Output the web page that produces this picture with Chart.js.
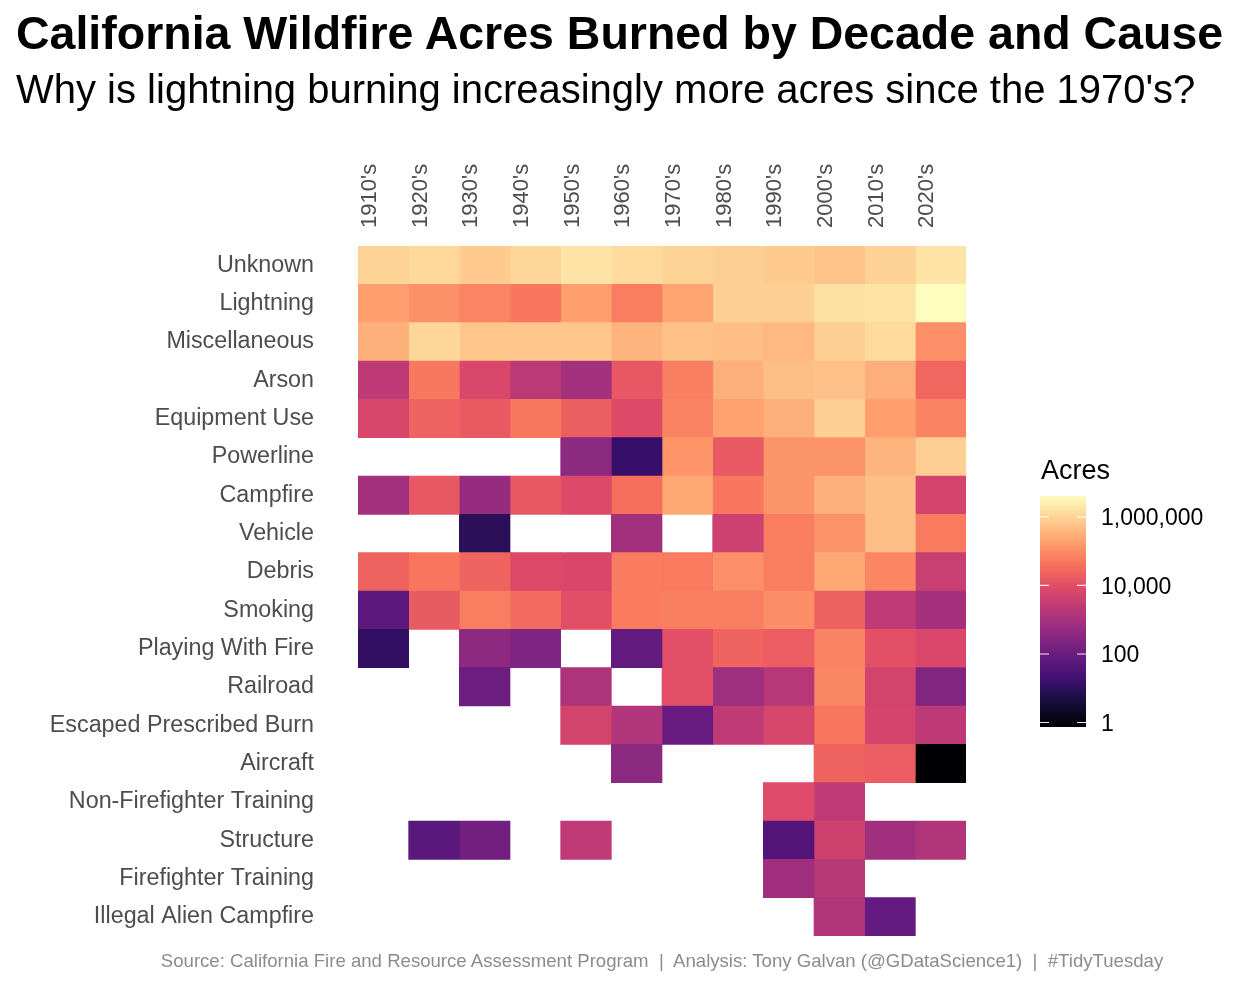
<!DOCTYPE html>
<html>
<head>
<meta charset="utf-8">
<script src="https://cdn.jsdelivr.net/npm/chart.js@4.4.1/dist/chart.umd.min.js"></script>
<style>
  html, body { margin: 0; padding: 0; background: #ffffff; }
  #wrap { position: relative; width: 1234px; height: 986px; overflow: hidden; font-family: "Liberation Sans", Arial, sans-serif; }
  #title { position: absolute; left: 16px; top: 7px; font-size: 46.5px; font-weight: bold; line-height: 1.15; white-space: nowrap; color: #000; }
  #subtitle { position: absolute; left: 16px; top: 66px; font-size: 40px; line-height: 1.15; white-space: nowrap; color: #000; }
  #caption { position: absolute; left: 0; width: 1324px; top: 950px; text-align: center; font-size: 18.6px; line-height: 1.15; white-space: pre; color: #8c8c8c; }
  canvas { position: absolute; left: 0; top: 0; }
</style>
</head>
<body>
<div id="wrap">
  <canvas id="chart" width="1234" height="986"></canvas>
  <div id="title">California Wildfire Acres Burned by Decade and Cause</div>
  <div id="subtitle">Why is lightning burning increasingly more acres since the 1970's?</div>
  <div id="caption">Source: California Fire and Resource Assessment Program  |  Analysis: Tony Galvan (@GDataScience1)  |  #TidyTuesday</div>
</div>
<script>
// ---------- DATA (acres burned; null = no fires) ----------
const decades = ["1910's","1920's","1930's","1940's","1950's","1960's","1970's","1980's","1990's","2000's","2010's","2020's"];
const causes = ["Unknown","Lightning","Miscellaneous","Arson","Equipment Use","Powerline","Campfire","Vehicle","Debris","Smoking","Playing With Fire","Railroad","Escaped Prescribed Burn","Aircraft","Non-Firefighter Training","Structure","Firefighter Training","Illegal Alien Campfire"];

const unknown    = [1000000, 1180000, 740000, 1090000, 1730000, 1270000, 1000000, 860000, 740000, 590000, 930000, 1730000];
const lightning  = [183000, 115000, 78000, 45000, 183000, 62000, 213000, 860000, 860000, 1600000, 1650000, 4070000];
const misc       = [315000, 1090000, 640000, 640000, 640000, 360000, 570000, 500000, 410000, 860000, 1270000, 108000];
const arson      = [2300, 50000, 6700, 2100, 880, 14400, 64000, 315000, 520000, 570000, 305000, 27000];
const equipment  = [6500, 24000, 16300, 50000, 19300, 8200, 72000, 198000, 315000, 860000, 183000, 72000];
const powerline  = [null, null, null, null, 370, 14, 132000, 15300, 128000, 128000, 360000, 860000];
const campfire   = [840, 14100, 510, 14100, 7950, 35800, 245000, 48000, 128000, 315000, 533000, 5500];
const vehicle    = [null, null, 9, null, null, 810, null, 4000, 62000, 120000, 520000, 53000];
const debris     = [22000, 47000, 23000, 8200, 6600, 58000, 53000, 108000, 60000, 245000, 80000, 3400];
const smoking    = [60, 16700, 62000, 31000, 10000, 58000, 64000, 60000, 101000, 21500, 2500, 900];
const playing    = [12, null, 380, 210, null, 73, 10400, 24000, 18000, 72000, 10400, 7000];
const railroad   = [null, null, 115, null, 1200, null, 10400, 690, 1800, 82000, 5300, 250];
const escaped    = [null, null, null, null, 5300, 1400, 87, 2500, 6200, 45000, 5500, 2200];
const aircraft   = [null, null, null, null, null, 360, null, null, null, 23000, 18000, 0.74];
const nonFFTrain = [null, null, null, null, null, null, null, null, 8600, 2500, null, null];
const structure  = [null, 55, 134, null, 2500, null, null, null, 41, 4400, 760, 1360];
const ffTrain    = [null, null, null, null, null, null, null, null, 730, 1820, null, null];
const illegal    = [null, null, null, null, null, null, null, null, null, 1360, 78, null];

const legendBreaks = [1, 100, 10000, 1000000];

// rows in the same order as causes
const rows = [unknown, lightning, misc, arson, equipment, powerline, campfire, vehicle, debris, smoking, playing, railroad, escaped, aircraft, nonFFTrain, structure, ffTrain, illegal];

// ---------- COLOUR SCALE (magma, log10) ----------
const MAGMA = ["#000004","#140E36","#3B0F70","#641A80","#8C2981","#B73779","#DE4968","#F7705C","#FE9F6D","#FECF92","#FCFDBF"];
const hexToRgb = h => [parseInt(h.slice(1,3),16), parseInt(h.slice(3,5),16), parseInt(h.slice(5,7),16)];
const MAGMA_RGB = MAGMA.map(hexToRgb);
function magma(t) {
  t = Math.max(0, Math.min(1, t));
  const p = t * (MAGMA_RGB.length - 1);
  const i = Math.min(MAGMA_RGB.length - 2, Math.floor(p));
  const f = p - i;
  const a = MAGMA_RGB[i], b = MAGMA_RGB[i + 1];
  const c = a.map((v, k) => Math.round(v + (b[k] - v) * f));
  return `rgb(${c[0]},${c[1]},${c[2]})`;
}
const allVals = rows.flat().filter(v => v != null);
const lmin = Math.log10(Math.min(...allVals));
const lmax = Math.log10(Math.max(...allVals));
const toT = v => (Math.log10(v) - lmin) / (lmax - lmin);

// ---------- DATASETS: one per decade, floating bars spanning that decade's column ----------
const datasets = decades.map((d, j) => ({
  label: d,
  data: rows.map(r => r[j] == null ? null : [j, j + 1]),
  backgroundColor: rows.map(r => r[j] == null ? 'rgba(0,0,0,0)' : magma(toT(r[j]))),
  borderWidth: 0,
  barPercentage: 1,
  categoryPercentage: 1
}));

// ---------- COLOUR BAR LEGEND ----------
const colorbar = {
  id: 'colorbar',
  afterDraw(chart) {
    const ctx = chart.ctx;
    const x0 = 1040, w = 46, top = 496, bottom = 727;
    const g = ctx.createLinearGradient(0, bottom, 0, top);
    MAGMA.forEach((c, i) => g.addColorStop(i / (MAGMA.length - 1), c));
    ctx.save();
    ctx.fillStyle = g;
    ctx.fillRect(x0, top, w, bottom - top);
    ctx.fillStyle = '#000';
    ctx.font = '27px "Liberation Sans", Arial, sans-serif';
    ctx.textAlign = 'left';
    ctx.textBaseline = 'alphabetic';
    ctx.fillText('Acres', 1041, 479);
    ctx.font = '23px "Liberation Sans", Arial, sans-serif';
    legendBreaks.forEach(v => {
      const y = bottom - toT(v) * (bottom - top);
      ctx.strokeStyle = 'rgba(255,255,255,0.9)';
      ctx.lineWidth = 1.2;
      ctx.beginPath();
      ctx.moveTo(x0, y); ctx.lineTo(x0 + 9, y);
      ctx.moveTo(x0 + w - 9, y); ctx.lineTo(x0 + w, y);
      ctx.stroke();
      ctx.fillStyle = '#000';
      ctx.fillText(v.toLocaleString('en-US'), 1101, y + 8.2);
    });
    ctx.restore();
  }
};

new Chart(document.getElementById('chart'), {
  type: 'bar',
  data: { labels: causes, datasets },
  options: {
    indexAxis: 'y',
    responsive: false,
    animation: false,
    devicePixelRatio: 1,
    layout: { padding: { left: 16, right: 268, top: 0, bottom: 50 } },
    plugins: { legend: { display: false }, tooltip: { enabled: false }, title: { display: false } },
    scales: {
      x: { type: 'linear', min: 0, max: 12, display: false, stacked: false },
      xTop: {
        type: 'category', labels: decades, position: 'top', offset: true,
        grid: { display: false, drawTicks: false }, border: { display: false },
        ticks: { minRotation: 90, maxRotation: 90, autoSkip: false, padding: 18, labelOffset: 13, color: '#4d4d4d',
                 font: { family: '"Liberation Sans", Arial, sans-serif', size: 22 } },
        afterFit: s => { s.height = 246; s.paddingLeft = 0; s.paddingRight = 0; }
      },
      y: {
        type: 'category', stacked: true,
        grid: { display: false, drawTicks: false }, border: { display: false },
        ticks: { padding: 44, color: '#4d4d4d', autoSkip: false,
                 font: { family: '"Liberation Sans", Arial, sans-serif', size: 23.3 } },
        afterFit: s => { s.width = 342; s.paddingTop = 0; s.paddingBottom = 0; }
      }
    }
  },
  plugins: [colorbar]
});
</script>
</body>
</html>
